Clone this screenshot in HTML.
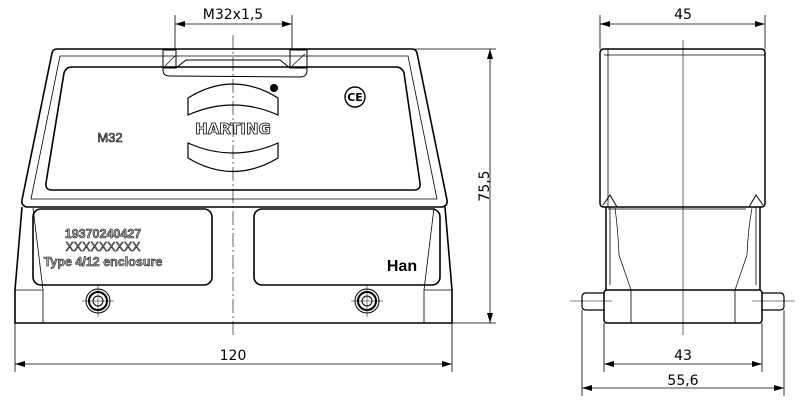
<!DOCTYPE html>
<html><head><style>html,body{margin:0;padding:0;background:#fff;}svg{display:block}</style></head>
<body>
<svg width="800" height="404" viewBox="0 0 800 404" xmlns="http://www.w3.org/2000/svg" font-family="'DejaVu Sans','Liberation Sans',sans-serif">
<defs>
<marker id="a" viewBox="0 0 10 6" refX="10" refY="3" markerWidth="10" markerHeight="6" orient="auto-start-reverse" markerUnits="userSpaceOnUse"><path d="M0,0 L10,3 L0,6 z" fill="#000"/></marker>
</defs>
<g fill="none" stroke="#000" stroke-width="1.6">
<path d="M57,49 L412,49 Q416,49 417,53 L447,200 Q448,206 442,207 L27,207 Q21,206 22,200 L52,53 Q53,49 57,49 Z"/>
<path d="M60,56 L408,56 L437,199 L31,199 Z" stroke-width="0.8"/>
<path d="M72,67 L396,67 Q402,67 404,73 L420,183 Q421,190 414,190 L52,190 Q45,190 46,183 L64,73 Q66,67 72,67 Z"/>
<path d="M163,49 L163,70 Q163,76 170,76 L300,77 Q307,77 307,70 L307,49" stroke-width="1"/>
<rect x="163" y="50" width="13" height="18" stroke-width="1"/>
<rect x="290" y="50" width="17" height="18" stroke-width="1"/>
<path d="M176,68 L186,60 L280,60 L290,68" stroke-width="1"/>
<path d="M165,66 L175,56 M292,66 L305,54" stroke-width="0.7"/>
<path d="M22,207 L15,290 L15,323 L452,323 L452,290 L445,207"/>
<path d="M33,208 L43,290 M434,208 L424,290 M15,290 L43,290 M424,290 L452,290 M43,290 L43,323 M424,290 L424,323" stroke-width="0.8"/>
<rect x="33" y="209" width="179" height="76" rx="8"/>
<rect x="254" y="209" width="186" height="76" rx="8"/>
<circle cx="98" cy="301" r="12" stroke-width="1"/><circle cx="98" cy="301" r="9" stroke-width="2"/><circle cx="98" cy="301" r="5" stroke-width="1"/>
<circle cx="367" cy="301" r="12" stroke-width="1"/><circle cx="367" cy="301" r="9" stroke-width="2"/><circle cx="367" cy="301" r="5" stroke-width="1"/>
<path d="M98,285 V317 M82,301 H114 M367,285 V317 M351,301 H383" stroke-width="0.5"/>
<path d="M188,98 Q233,70 278,98 L278,115 Q233,95 188,115 Z" stroke-width="1.2"/>
<path d="M188,143 Q233,163 278,143 L278,158 Q233,185 188,158 Z" stroke-width="1.2"/>
<circle cx="274" cy="88" r="4" fill="#000" stroke="none"/>
<circle cx="355" cy="97" r="10" stroke-width="1.4"/>
</g>
<g font-size="11">
<text x="233" y="134" text-anchor="middle" font-weight="bold" font-size="15" fill="#fff" stroke="#000" stroke-width="0.8">HARTING</text>
<text x="355" y="101" text-anchor="middle" font-size="11" font-weight="bold">CE</text>
<text x="110" y="142" text-anchor="middle" font-size="13" fill="#bbb" stroke="#000" stroke-width="0.6" font-family="'Liberation Sans',sans-serif">M32</text>
<g font-family="'Liberation Sans',sans-serif" fill="#aaa" stroke="#000" stroke-width="0.5" font-size="12.5" text-anchor="middle">
<text x="103" y="238" font-weight="bold">19370240427</text>
<text x="103" y="251">XXXXXXXXX</text>
<text x="103" y="266" font-weight="bold">Type 4/12 enclosure</text>
</g>
<text x="402" y="271" text-anchor="middle" font-size="16" font-weight="bold" font-family="'Liberation Sans',sans-serif">Han</text>
</g>
<g stroke="#000" stroke-width="0.6" fill="none">
<path d="M233,35 V335" stroke-dasharray="14,3,2,3"/>
<path d="M683,40 V335"/>
<path d="M570,301 H612 M752,301 H795"/>
</g>
<g stroke="#000" stroke-width="0.8" fill="none">
<path d="M175,15 V49 M292,15 V49"/>
<path d="M175,24 H292" marker-start="url(#a)" marker-end="url(#a)"/>
<path d="M415,49 H496 M452,323 H496"/>
<path d="M490,49 V323" marker-start="url(#a)" marker-end="url(#a)"/>
<path d="M15,323 V372 M452,323 V372"/>
<path d="M15,364 H452" marker-start="url(#a)" marker-end="url(#a)"/>
<path d="M600,15 V49 M765,15 V49"/>
<path d="M600,24 H765" marker-start="url(#a)" marker-end="url(#a)"/>
<path d="M604,323 V372 M762,323 V372 M582,310 V396 M784,310 V396"/>
<path d="M604,364 H762" marker-start="url(#a)" marker-end="url(#a)"/>
<path d="M582,388 H784" marker-start="url(#a)" marker-end="url(#a)"/>
</g>
<g font-size="14" text-anchor="middle">
<text x="233" y="19">M32x1,5</text>
<text x="233" y="360">120</text>
<text x="489" y="186" transform="rotate(-90 489 186)">75,5</text>
<text x="683" y="19">45</text>
<text x="683" y="360">43</text>
<text x="683" y="385">55,6</text>
</g>
<g fill="none" stroke="#000" stroke-width="1.5">
<path d="M604,49 L761,49 Q765,49 765,53 L765,203 Q765,207 761,207 L604,207 Q600,207 600,203 L600,53 Q600,49 604,49 Z"/>
<path d="M608,49 V207" stroke-width="0.8"/>
<path d="M604,55 H765 M608,209 H746" stroke-width="0.8"/>
<path d="M606,207 L606,290 M760,207 L760,290" />
<path d="M610,207 L610,285 M756,207 L756,285" stroke-width="0.8"/>
<path d="M615,208 Q618,230 619,255 L631,290 M752,208 Q748,230 747,255 L735,290" stroke-width="0.7"/>
<path d="M603,205 L610,195 L617,207 M763,205 L756,195 L749,207" stroke-width="1"/>
<rect x="604" y="290" width="158" height="33" rx="3"/>
<path d="M631,290 V323 M735,290 V323" stroke-width="0.8"/>
<path d="M604,293 L586,293 Q582,293 582,297 L582,306 Q582,310 586,310 L604,310" stroke-width="1.2"/>
<path d="M762,293 L780,293 Q784,293 784,297 L784,306 Q784,310 780,310 L762,310" stroke-width="1.2"/>
</g>
</svg>
</body></html>
